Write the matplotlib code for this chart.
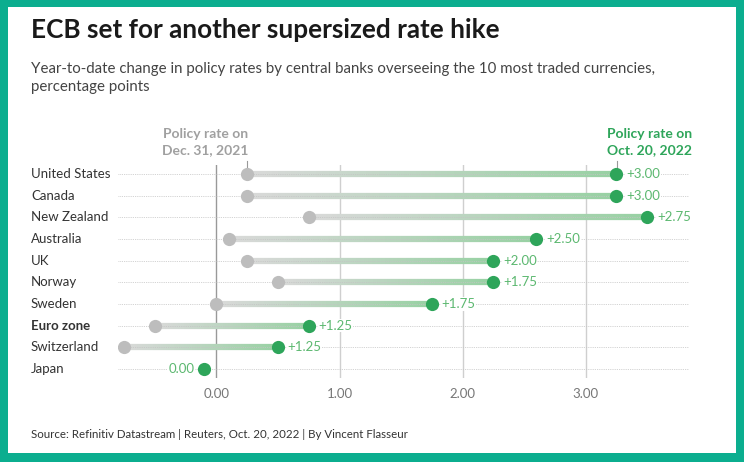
import numpy as np
import matplotlib
matplotlib.use('Agg')
import matplotlib.pyplot as plt
from matplotlib.collections import LineCollection
from matplotlib.colors import to_rgb
from matplotlib.patches import Rectangle

plt.rcParams['font.family'] = ['Lato', 'DejaVu Sans']

# данные
countries = ['United States', 'Canada', 'New Zealand', 'Australia', 'UK',
             'Norway', 'Sweden', 'Euro zone', 'Switzerland', 'Japan']
rate_2021 = [0.25, 0.25, 0.75, 0.10, 0.25, 0.50, 0.00, -0.50, -0.75, -0.10]
rate_2022 = [3.25, 3.25, 3.50, 2.60, 2.25, 2.25, 1.75, 0.75, 0.50, -0.10]
change_labels = ['+3.00', '+3.00', '+2.75', '+2.50', '+2.00', '+1.75',
                 '+1.75', '+1.25', '+1.25', '0.00']
x_ticks = [0, 1, 2, 3]
x_tick_labels = ['0.00', '1.00', '2.00', '3.00']

W, H = 744, 462
TEAL = '#0bae8f'
GREEN = '#2ea55a'
GREEN_TXT = '#5cb870'
GRAY_DOT = '#bdbdbd'
ROW = 21.67


def fx(px):
    return px / W


def fy(py):
    return 1 - py / H


fig = plt.figure(figsize=(W / 100, H / 100), dpi=100)
fig.patch.set_facecolor(TEAL)
fig.patches.append(Rectangle((fx(8), fy(453)), fx(728), 446 / H,
                             transform=fig.transFigure, facecolor='white',
                             edgecolor='none', zorder=-5))

# оси с данными
ax = fig.add_axes([fx(118), fy(378), fx(689 - 118), (378 - 165) / H])
ax.set_zorder(2)
ax.set_facecolor('none')
ax.set_xlim(-0.8, 3.84)
ax.set_ylim(9 + 9 / ROW, -9 / ROW)
for s in ax.spines.values():
    s.set_visible(False)

for xt in x_ticks:
    ax.axvline(xt, color='#999999' if xt == 0 else '#cfcfcf', lw=1, zorder=1)

c0 = np.array(to_rgb('#d9d9d9'))
c1 = np.array(to_rgb('#98d1a3'))
n = len(countries)
for i in range(n):
    ax.plot([-0.8, 3.84], [i, i], color='#c4c4c4', lw=0.6, ls=(0, (1, 1.2)), zorder=3)
    a, b = rate_2021[i], rate_2022[i]
    if b != a:
        xs = np.linspace(a, b, 60)
        segs = [[(xs[k], i), (xs[k + 1], i)] for k in range(len(xs) - 1)]
        t = np.linspace(0, 1, len(segs))[:, None]
        cols = c0 * (1 - t) + c1 * t
        lc = LineCollection(segs, colors=cols, linewidths=4.5, capstyle='butt', zorder=2)
        ax.add_collection(lc)
        ax.plot(a, i, 'o', color=GRAY_DOT, ms=9.5, mec='none', zorder=4)
        ax.plot(b, i, 'o', color=GREEN, ms=9.5, mec='none', zorder=5)
        ax.annotate(change_labels[i], (b, i), xytext=(7, 0), textcoords='offset points',
                    ha='left', va='center', fontsize=9.5, color=GREEN_TXT, zorder=6,
                    bbox=dict(boxstyle='square,pad=0.05', fc='white', ec='none'))
    else:
        ax.plot(b, i, 'o', color=GREEN, ms=9.5, mec='none', zorder=5)
        ax.annotate(change_labels[i], (b, i), xytext=(-7, 0), textcoords='offset points',
                    ha='right', va='center', fontsize=9.5, color=GREEN_TXT, zorder=6,
                    bbox=dict(boxstyle='square,pad=0.05', fc='white', ec='none'))

ax.set_yticks([])
ax.set_xticks(x_ticks)
ax.set_xticklabels(x_tick_labels, fontsize=9.5, color='#777777')
ax.tick_params(axis='x', length=0, pad=7)

# подписи стран
for i, name in enumerate(countries):
    fig.text(fx(31), fy(174 + i * ROW), name, ha='left', va='center',
             fontsize=9.5, color='#333333',
             fontweight='bold' if name == 'Euro zone' else 'normal')

# заголовки колонок
fig.text(fx(248), fy(142), 'Policy rate on\nDec. 31, 2021', ha='right', va='center',
         fontsize=10, fontweight='bold', color='#a0a0a0', linespacing=1.4)
fig.text(fx(607), fy(142), 'Policy rate on\nOct. 20, 2022', ha='left', va='center',
         fontsize=10, fontweight='bold', color=GREEN, linespacing=1.4)
fig.add_artist(plt.Line2D([fx(247), fx(247)], [fy(161), fy(168)], color='#999999', lw=0.8))
fig.add_artist(plt.Line2D([fx(617), fx(617)], [fy(161), fy(168)], color='#999999', lw=0.8))

fig.text(fx(31), fy(30), 'ECB set for another supersized rate hike', ha='left', va='center',
         fontsize=18.8, fontweight='bold', color='#1a1a1a')
fig.text(fx(31), fy(78), 'Year-to-date change in policy rates by central banks overseeing the 10 most traded currencies,\npercentage points',
         ha='left', va='center', fontsize=10.8, color='#444444', linespacing=1.4)
fig.text(fx(31), fy(434), 'Source: Refinitiv Datastream | Reuters, Oct. 20, 2022 | By Vincent Flasseur',
         ha='left', va='center', fontsize=8.3, color='#333333')

fig.savefig('out.png', dpi=100, facecolor=fig.get_facecolor())
